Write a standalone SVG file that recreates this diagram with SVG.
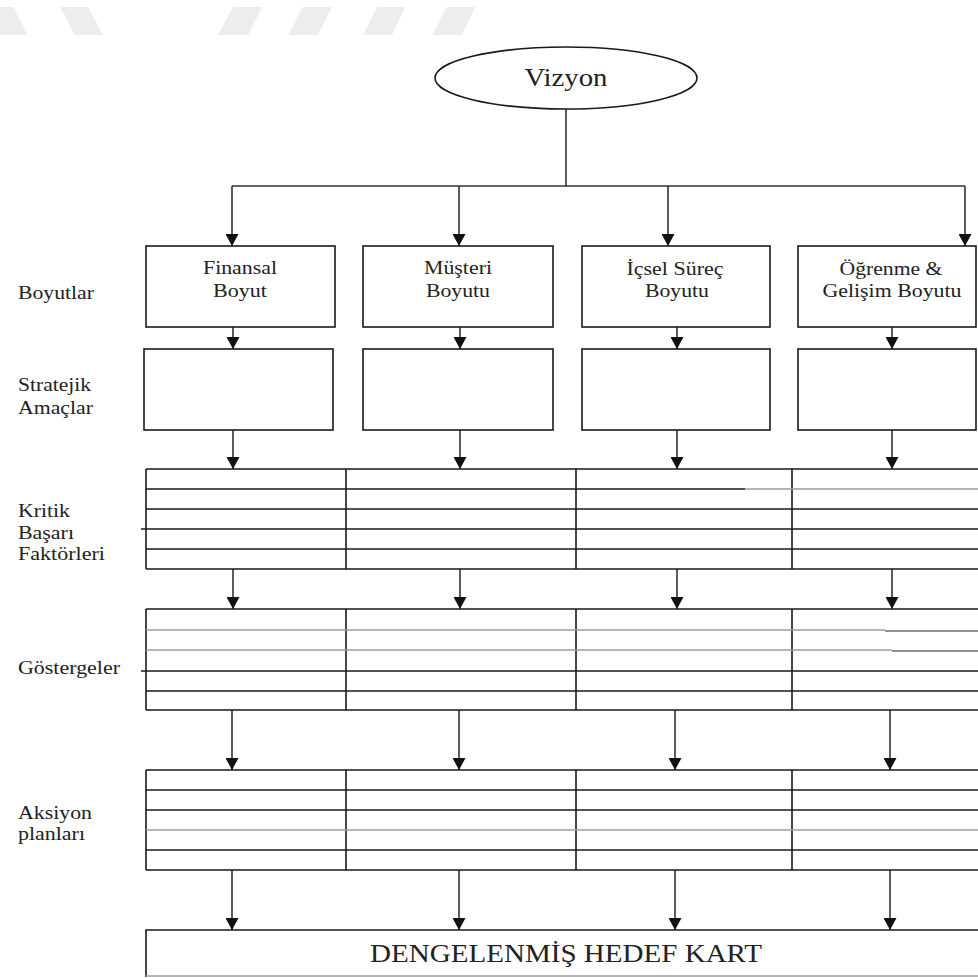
<svg xmlns="http://www.w3.org/2000/svg" width="978" height="978" viewBox="0 0 978 978">
<style>
.t{font-family:"Liberation Serif","Tinos","DejaVu Serif","Noto Serif","Times New Roman",serif;fill:#222;font-size:19.5px}
.c{text-anchor:middle}
.box{fill:#fff;stroke:#1a1a1a;stroke-width:1.6}
.ln{stroke:#1a1a1a;stroke-width:1.6;fill:none}
.lg{stroke:#9c9c9c;stroke-width:1.6;fill:none}
.lm{stroke:#6e6e6e;stroke-width:1.6;fill:none}
.cn{stroke:#333;stroke-width:1.6;fill:none}
.arr{marker-end:url(#ah)}
.wm{fill:#ededed}
</style>
<defs>
<marker id="ah" markerUnits="userSpaceOnUse" viewBox="0 0 12 13" refX="12" refY="6.5" markerWidth="12" markerHeight="13" orient="auto">
<path d="M0,0 L12,6.5 L0,13 z" fill="#111"/>
</marker>
</defs>
<rect width="978" height="978" fill="#fff"/>

<!-- header band stripes -->
<g id="header-stripes">
<polygon class="wm" points="-15,7 13,7 28,35 0,35"/>
<polygon class="wm" points="60,7 88,7 103,35 75,35"/>
<polygon class="wm" points="233,7 262,7 248,35 218,35"/>
<polygon class="wm" points="303,7 332,7 318,35 288,35"/>
<polygon class="wm" points="377,7 405,7 392,35 363,35"/>
<polygon class="wm" points="447,7 475,7 462,35 432,35"/>
</g>

<!-- row labels -->
<g id="row-labels">
<text class="t" x="18" y="299" textLength="76" lengthAdjust="spacingAndGlyphs">Boyutlar</text>
<text class="t" x="18" y="391" textLength="73" lengthAdjust="spacingAndGlyphs">Stratejik</text>
<text class="t" x="18" y="414" textLength="75" lengthAdjust="spacingAndGlyphs">Amaçlar</text>
<text class="t" x="18" y="517" textLength="52" lengthAdjust="spacingAndGlyphs">Kritik</text>
<text class="t" x="18" y="539" textLength="56" lengthAdjust="spacingAndGlyphs">Başarı</text>
<text class="t" x="18" y="560" textLength="87" lengthAdjust="spacingAndGlyphs">Faktörleri</text>
<text class="t" x="18" y="674" textLength="102" lengthAdjust="spacingAndGlyphs">Göstergeler</text>
<text class="t" x="18" y="819" textLength="74" lengthAdjust="spacingAndGlyphs">Aksiyon</text>
<text class="t" x="18" y="840" textLength="67" lengthAdjust="spacingAndGlyphs">planları</text>
</g>

<!-- connectors -->
<g id="connectors">
<path class="cn" d="M566,109 V186 M232,186 H965"/>
<path class="cn arr" d="M232,186 V246"/>
<path class="cn arr" d="M459,186 V246"/>
<path class="cn arr" d="M668,186 V246"/>
<path class="cn arr" d="M965,186 V246"/>
<path class="cn arr" d="M233,327 V349"/>
<path class="cn arr" d="M460,327 V349"/>
<path class="cn arr" d="M677,327 V349"/>
<path class="cn arr" d="M892,327 V349"/>
<path class="cn arr" d="M233,430 V469"/>
<path class="cn arr" d="M460,430 V469"/>
<path class="cn arr" d="M677,430 V469"/>
<path class="cn arr" d="M892,430 V469"/>
<path class="cn arr" d="M233,569 V609"/>
<path class="cn arr" d="M460,569 V609"/>
<path class="cn arr" d="M677,569 V609"/>
<path class="cn arr" d="M892,569 V609"/>
<path class="cn arr" d="M232,710 V770"/>
<path class="cn arr" d="M459,710 V770"/>
<path class="cn arr" d="M675,710 V770"/>
<path class="cn arr" d="M890,710 V770"/>
<path class="cn arr" d="M232,870 V930"/>
<path class="cn arr" d="M459,870 V930"/>
<path class="cn arr" d="M675,870 V930"/>
<path class="cn arr" d="M890,870 V930"/>
</g>

<!-- vision -->
<g id="vizyon">
<ellipse class="box" cx="566" cy="78" rx="131" ry="31"/>
<text class="t c" x="566" y="86" style="font-size:26px" textLength="83" lengthAdjust="spacingAndGlyphs">Vizyon</text>
</g>

<!-- perspectives -->
<g id="finansal-boyut">
<rect class="box" x="146" y="246" width="189" height="81"/>
<text class="t c" x="240" y="274" textLength="74" lengthAdjust="spacingAndGlyphs">Finansal</text>
<text class="t c" x="240" y="297" textLength="54" lengthAdjust="spacingAndGlyphs">Boyut</text>
</g>
<g id="musteri-boyutu">
<rect class="box" x="363" y="246" width="190" height="81"/>
<text class="t c" x="458" y="274" textLength="68" lengthAdjust="spacingAndGlyphs">Müşteri</text>
<text class="t c" x="458" y="297" textLength="64" lengthAdjust="spacingAndGlyphs">Boyutu</text>
</g>
<g id="icsel-surec-boyutu">
<rect class="box" x="582" y="246" width="188" height="81"/>
<text class="t c" x="675" y="275" textLength="97" lengthAdjust="spacingAndGlyphs">İçsel Süreç</text>
<text class="t c" x="677" y="297" textLength="64" lengthAdjust="spacingAndGlyphs">Boyutu</text>
</g>
<g id="ogrenme-gelisim-boyutu">
<rect class="box" x="798" y="246" width="178" height="81"/>
<text class="t c" x="891" y="275" textLength="103" lengthAdjust="spacingAndGlyphs">Öğrenme &amp;</text>
<text class="t c" x="892" y="297" textLength="139" lengthAdjust="spacingAndGlyphs">Gelişim Boyutu</text>
</g>

<!-- strategic goals -->
<g id="amac-finansal"><rect class="box" x="144" y="349" width="189" height="81"/></g>
<g id="amac-musteri"><rect class="box" x="363" y="349" width="190" height="81"/></g>
<g id="amac-icsel"><rect class="box" x="582" y="349" width="188" height="81"/></g>
<g id="amac-ogrenme"><rect class="box" x="798" y="349" width="178" height="81"/></g>

<!-- critical success factors grid -->
<g id="kritik-basari-faktorleri">
<path class="ln" d="M146,469 H978 M146,569 H978 M146,469 V569 M346,469 V569 M576,469 V569 M792,469 V569 M146,509 H978 M141,529 H978 M146,549 H978 M146,489 H745"/>
<path class="lg" d="M745,489 H978"/>
</g>

<!-- indicators grid -->
<g id="gostergeler">
<path class="ln" d="M146,609 H978 M146,710 H978 M146,609 V710 M346,609 V710 M576,609 V710 M792,609 V710 M141,671 H978 M146,691 H978"/>
<path class="lg" d="M146,630 H885 M146,650 H892"/>
<path class="lm" d="M885,631 H978 M892,651 H978"/>
</g>

<!-- action plans grid -->
<g id="aksiyon-planlari">
<path class="ln" d="M146,770 H978 M146,870 H978 M146,770 V870 M346,770 V870 M576,770 V870 M792,770 V870 M146,790 H978 M146,810 H978 M146,850 H978"/>
<path class="lg" d="M146,830 H978"/>
</g>

<!-- balanced scorecard -->
<g id="dengelenmis-hedef-kart">
<path class="ln" d="M146,977 V930 H978"/>
<path class="lg" d="M146,976 H978"/>
<text class="t c" x="566" y="962" style="font-size:25.7px" textLength="392" lengthAdjust="spacingAndGlyphs">DENGELENMİŞ HEDEF KART</text>
</g>
</svg>
